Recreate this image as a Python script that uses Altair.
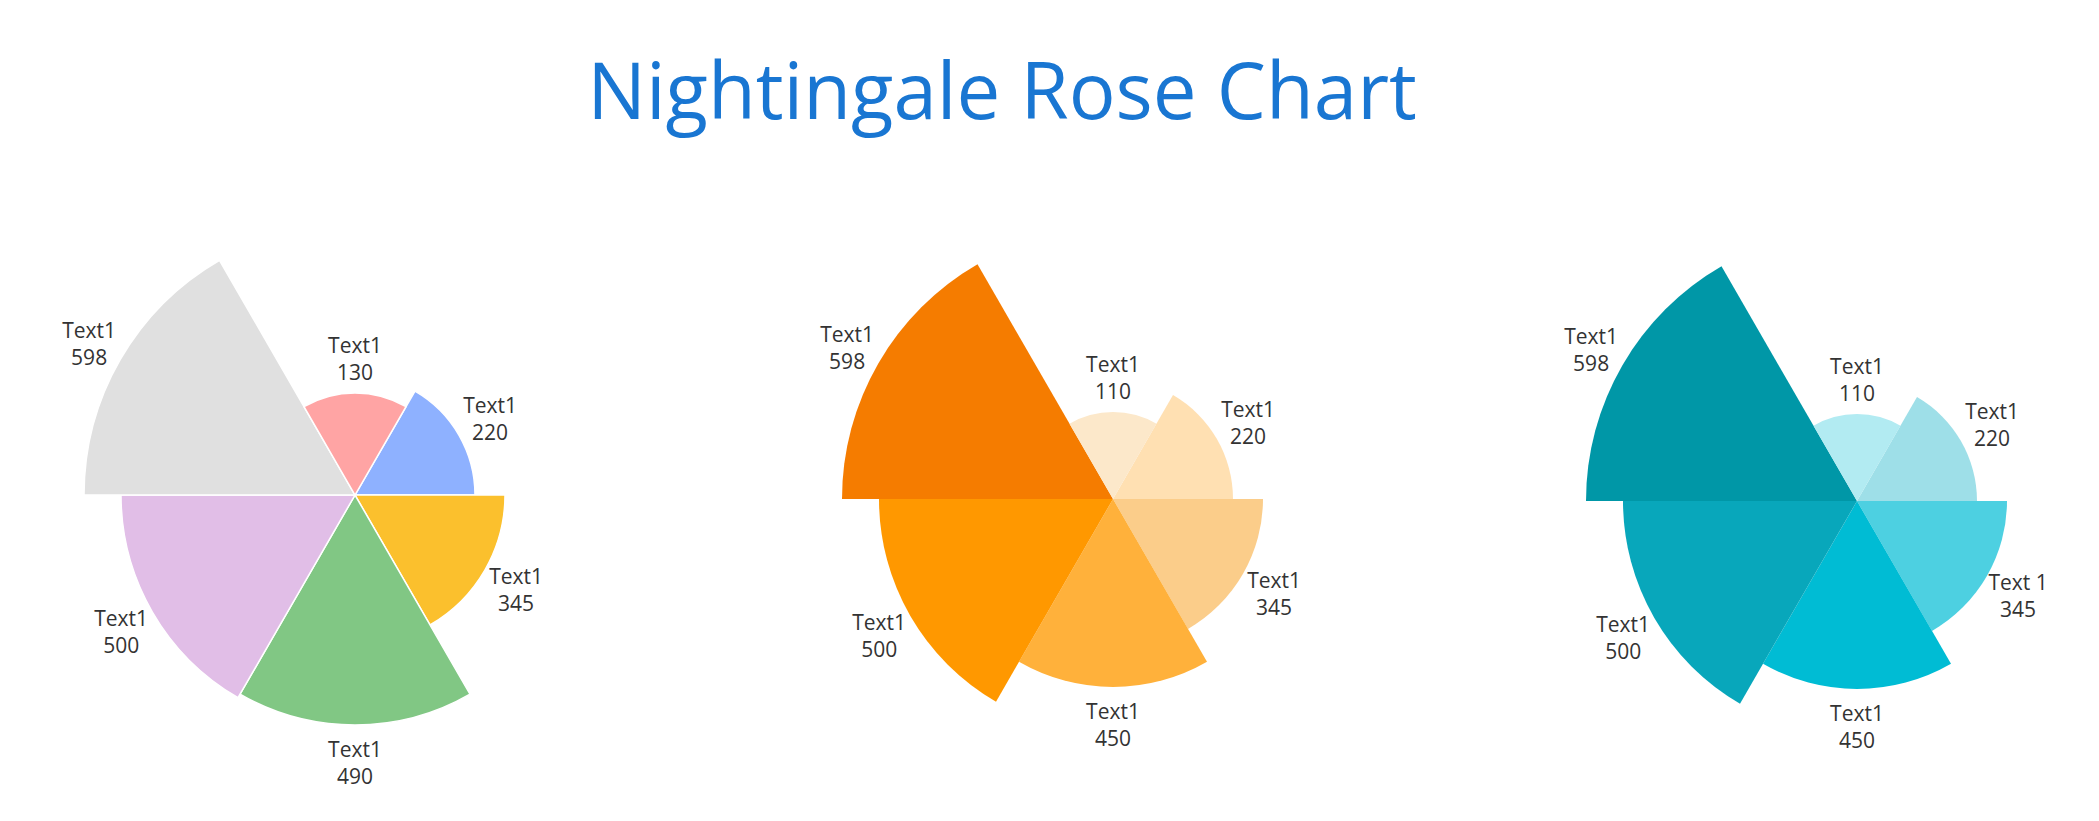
import math
import altair as alt
import pandas as pd

TITLE = "Nightingale Rose Chart"

# Slices listed clockwise, starting with the slice that begins at 1 o'clock
C1_VALUES = [220, 345, 490, 500, 598, 130]
C1_LABELS = ["Text1", "Text1", "Text1", "Text1", "Text1", "Text1"]
C1_COLORS = ["#8EB1FF", "#FBC02D", "#81C784", "#E1BEE7", "#E0E0E0", "#FFA4A4"]

C2_VALUES = [220, 345, 450, 500, 598, 110]
C2_LABELS = ["Text1", "Text1", "Text1", "Text1", "Text1", "Text1"]
C2_COLORS = ["#FFE0B2", "#FBCD8A", "#FFB13B", "#FF9800", "#F57C00", "#FCE8CA"]

C3_VALUES = [220, 345, 450, 500, 598, 110]
C3_LABELS = ["Text1", "Text 1", "Text1", "Text1", "Text1", "Text1"]
C3_COLORS = ["#9EDFE8", "#4DD0E1", "#00BCD4", "#08A7BB", "#0097A7", "#B2EBF2"]

# radius scale (value -> pixels)
RADIUS_DOMAIN = [110, 130, 220, 345, 450, 490, 500, 598]
RADIUS_RANGE = [87, 102, 120, 150, 188, 230, 234, 271]

CENTERS = [(355, 495), (1113, 499), (1857, 501)]

N_SLICES = 6
start = math.pi / 6
theta_scale = alt.Scale(domain=[0, N_SLICES], range=[start, start + 2 * math.pi],
                        zero=False, nice=False)
r_scale = alt.Scale(type="linear", domain=RADIUS_DOMAIN, range=RADIUS_RANGE,
                    zero=False, nice=False)


def rose(values, labels, colors, center, stroke):
    df = pd.DataFrame({
        "idx": list(range(len(values))),
        "value": values,
        "label": [f"{l}\n{v}" for l, v in zip(labels, values)],
        "color": colors,
    })
    cx, cy = center
    base = alt.Chart(df).transform_calculate(
        t0="datum.idx", t1="datum.idx + 1", tm="datum.idx + 0.5"
    )
    arc_kwargs = {}
    if stroke:
        arc_kwargs = dict(stroke="white", strokeWidth=1.5)
    arc = base.mark_arc(**arc_kwargs).encode(
        theta=alt.Theta("t0:Q", scale=theta_scale),
        theta2=alt.Theta2("t1:Q"),
        radius=alt.Radius("value:Q", scale=r_scale, stack=False),
        radius2=alt.value(0),
        color=alt.Color("color:N", scale=None),
        x=alt.value(cx),
        y=alt.value(cy),
    )
    txt = base.mark_text(
        radiusOffset=36, fontSize=21, font="Open Sans", color="#333333",
        lineBreak="\n", lineHeight=27, align="center", baseline="middle",
        dy=-10
    ).encode(
        theta=alt.Theta("tm:Q", scale=theta_scale),
        radius=alt.Radius("value:Q", scale=r_scale, stack=False),
        text="label:N",
        x=alt.value(cx),
        y=alt.value(cy),
    )
    return [arc, txt]


layers = []
layers += rose(C1_VALUES, C1_LABELS, C1_COLORS, CENTERS[0], True)
layers += rose(C2_VALUES, C2_LABELS, C2_COLORS, CENTERS[1], False)
layers += rose(C3_VALUES, C3_LABELS, C3_COLORS, CENTERS[2], False)

title = alt.Chart(pd.DataFrame({"t": [TITLE]})).mark_text(
    fontSize=78, font="Open Sans", color="#1976D2", align="center",
    baseline="alphabetic"
).encode(x=alt.value(1002), y=alt.value(119), text="t:N")
layers.append(title)

chart = alt.layer(*layers).properties(
    width=2099, height=821, padding=0,
    autosize=alt.AutoSizeParams(type="none"),
    background="white",
).configure_view(stroke=None)

chart.save("out.html", embed_options={"renderer": "svg", "actions": False})
